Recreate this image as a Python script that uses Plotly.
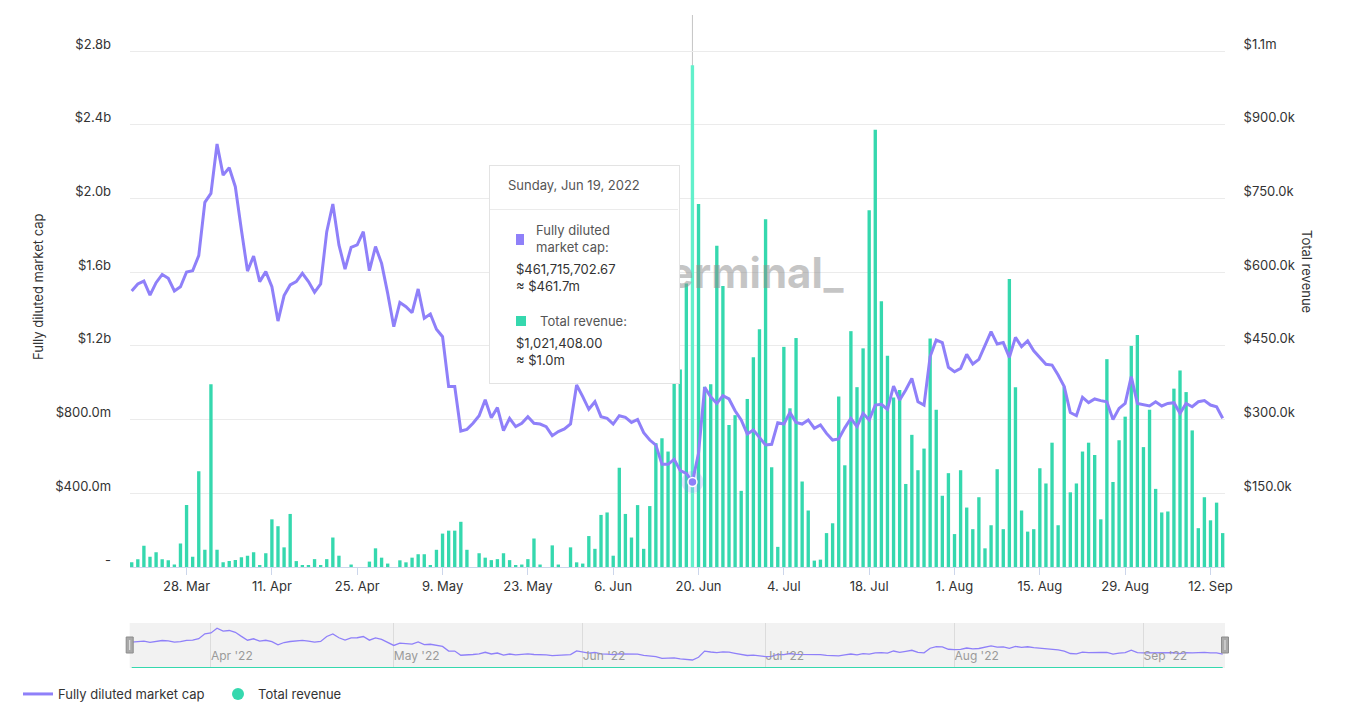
import pandas as pd
import plotly.graph_objects as go

# ---------------- data ----------------
start_date = "2022-03-19"          # first daily point
hover_date = "2022-06-19"          # date shown in the tooltip

# Fully diluted market cap, USD millions (daily)
fdmc_musd = [
    1498, 1536, 1552, 1476, 1543, 1588, 1567, 1498, 1521, 1601,
    1608, 1690, 1979, 2028, 2296, 2127, 2167, 2064, 1829, 1606,
    1688, 1549, 1603, 1521, 1335, 1473, 1531, 1549, 1594, 1549,
    1491,
    1536, 1820, 1970, 1748, 1617, 1735, 1748, 1820, 1608, 1739,
    1648, 1485, 1304, 1436, 1413, 1380, 1509, 1350, 1373, 1290,
    1250, 979, 979, 738, 747, 780, 821, 908, 810,
    865, 740, 807, 762, 780, 816, 780, 776, 762, 713,
    735, 749, 776, 988, 925, 856, 897, 816, 807, 776,
    821, 812, 785, 801, 729, 689, 662, 557, 557, 584,
    523, 508, 461.71570267, 617, 975, 924, 888, 930, 912, 848,
    798, 722, 744, 704, 662, 666, 783, 776, 838, 785,
    776, 798, 753, 771, 725, 689, 695, 755, 807,
    762, 834, 798, 879, 883, 856, 982, 906, 961, 1024,
    897, 879, 1142, 1232, 1218, 1084, 1060, 1078, 1154, 1102,
    1127, 1205, 1277, 1210, 1218, 1138, 1246, 1196, 1227, 1173,
    1138, 1100, 1096, 1042, 979, 838, 821, 921, 892, 912,
    903, 897, 801, 861, 888, 1033, 888, 879, 874, 897,
    874, 888, 892, 834, 888, 870, 897, 903, 879, 870,
    807,
]

# Total revenue, USD thousands (daily)
revenue_kusd = [
    9.5, 16, 43, 21, 30, 16, 13.6, 5, 48, 126,
    21, 195, 35, 372, 35, 9.5, 12, 14, 20, 23,
    30, 4, 28, 97, 83, 40, 108, 12, 4, 4,
    16,
    4, 16, 60, 23, 0, 5, 0, 0, 11, 38,
    19, 7, 0, 13.6, 9.5, 19, 26, 26, 4, 35,
    68, 74, 74, 92, 35, 0, 28,
    19, 14, 16, 28, 14, 4, 5, 16, 58, 5,
    0, 44, 5, 0, 40, 9.5, 7, 63, 37, 106,
    111, 23, 202, 108, 60, 126, 37, 124, 252, 262,
    235,
    388, 402, 577, 1021.408, 739, 367, 372, 654, 572, 289,
    309, 155, 342, 427, 484, 708, 203, 41, 448, 323,
    466, 174, 115, 13, 15, 69, 89, 347, 207, 480,
    366, 445, 726, 890, 541, 430, 345, 360, 169, 269,
    197, 241, 465, 320, 145, 191, 67, 197, 121, 77,
    142, 38, 85, 199, 77, 586, 366, 115, 72, 77,
    201, 170, 253, 85, 367, 152, 170, 235, 253, 228,
    97, 423, 173, 258, 306, 450, 472, 244, 320, 159,
    111, 113, 363, 400, 356, 278, 79, 142, 95, 131,
    69,
]

fdmc_tick_vals = [0, 400e6, 800e6, 1.2e9, 1.6e9, 2.0e9, 2.4e9, 2.8e9]
fdmc_tick_text = ["-", "$400.0m", "$800.0m", "$1.2b", "$1.6b", "$2.0b", "$2.4b", "$2.8b"]
rev_tick_vals = [0, 150e3, 300e3, 450e3, 600e3, 750e3, 900e3, 1.05e6]
rev_tick_text = ["", "$150.0k", "$300.0k", "$450.0k", "$600.0k", "$750.0k", "$900.0k", "$1.1m"]

# ---------------- derived ----------------
dates = pd.date_range(start_date, periods=len(fdmc_musd), freq="D")
fdmc = [v * 1e6 for v in fdmc_musd]
revenue = [v * 1e3 for v in revenue_kusd]
idx = dates.get_loc(pd.Timestamp(hover_date))

PURPLE = "#8f80f9"
GREEN = "#35d8ae"
GREEN_HOVER = "#62f0cb"
FONT = "Inter, Roboto, sans-serif"
TXT = "#333333"

W, H = 1358, 713
def px(x):
    return x / W
def py(y):
    return 1 - y / H

PLOT_L, PLOT_R, PLOT_T, PLOT_B = 129.7, 1225, 15, 567
NAV_T, NAV_B = 623, 668
n_ticks_span = (PLOT_B - PLOT_T) / 73.7   # axis height in tick intervals

day = pd.Timedelta(days=1)
x_range = [dates[0] - 0.33 * day, dates[-1] + 0.38 * day]

bar_colors = [GREEN] * len(revenue)
bar_colors[idx] = GREEN_HOVER

fig = go.Figure()

fig.add_trace(go.Bar(
    x=dates, y=revenue, xaxis="x", yaxis="y", name="Total revenue",
    marker=dict(color=bar_colors, line=dict(width=0)), showlegend=False,
    hoverinfo="skip",
))
fig.add_trace(go.Scatter(
    x=dates, y=fdmc, xaxis="x", yaxis="y2", mode="lines",
    name="Fully diluted market cap", line=dict(color=PURPLE, width=3),
))
fig.add_trace(go.Scatter(
    x=[dates[idx]], y=[fdmc[idx]], xaxis="x", yaxis="y2", mode="markers",
    marker=dict(size=22, color="rgba(143,128,249,0.22)"), showlegend=False,
))
fig.add_trace(go.Scatter(
    x=[dates[idx]], y=[fdmc[idx]], xaxis="x", yaxis="y2", mode="markers",
    marker=dict(size=9, color=PURPLE, line=dict(color="white", width=1.5)),
    showlegend=False,
))
fig.add_trace(go.Scatter(
    x=[None], y=[None], mode="markers", name="Total revenue",
    marker=dict(symbol="circle", size=12, color=GREEN),
))
# navigator
fig.add_trace(go.Scatter(
    x=dates, y=fdmc, xaxis="x2", yaxis="y3", mode="lines",
    line=dict(color=PURPLE, width=1.3), showlegend=False, hoverinfo="skip",
))
fig.add_trace(go.Scatter(
    x=dates, y=revenue, xaxis="x2", yaxis="y3", mode="lines",
    line=dict(color=GREEN, width=2), showlegend=False, hoverinfo="skip",
))

tickfont = dict(family=FONT, size=13, color=TXT)

shapes = [
    dict(type="rect", xref="x2 domain", yref="y3 domain", x0=0, x1=1, y0=0, y1=1,
         fillcolor="#f2f2f2", line=dict(width=0), layer="below"),
    dict(type="line", xref="x", yref="y domain", x0=dates[idx], x1=dates[idx],
         y0=0, y1=1, line=dict(color="#c4c4c4", width=1), layer="below"),
]
for hx in (PLOT_L, PLOT_R):
    shapes.append(dict(type="rect", xref="paper", yref="paper",
                       x0=px(hx - 3.5), x1=px(hx + 3.5), y0=py(653), y1=py(637),
                       fillcolor="#a9a9a9", line=dict(color="#8c8c8c", width=1)))
    shapes.append(dict(type="line", xref="paper", yref="paper",
                       x0=px(hx), x1=px(hx), y0=py(650), y1=py(640),
                       line=dict(color="#e8e8e8", width=1)))

annotations = [
    dict(text="Fully diluted market cap", xref="paper", yref="paper",
         x=px(38), y=py(287), textangle=-90, showarrow=False,
         font=dict(family=FONT, size=13, color=TXT), xanchor="center", yanchor="middle"),
    dict(text="Total revenue", xref="paper", yref="paper",
         x=px(1307), y=py(271), textangle=90, showarrow=False,
         font=dict(family=FONT, size=13, color=TXT), xanchor="center", yanchor="middle"),
    # watermark (left part hidden behind the tooltip)
    dict(text="<b>Terminal_</b>", xref="paper", yref="paper",
         x=px(846), y=py(272), xanchor="right", yanchor="middle", showarrow=False,
         font=dict(family=FONT, size=42, color="rgba(140,140,140,0.5)")),
]

# tooltip
TT_L, TT_R, TT_T, TT_B = 489, 678, 165, 382
def box(x0, y0, w, h, color, border=None):
    return dict(text=" ", xref="paper", yref="paper", x=px(x0), y=py(y0),
                xanchor="left", yanchor="top", showarrow=False,
                width=w, height=h, bgcolor=color, borderpad=0,
                bordercolor=border if border else color, borderwidth=1 if border else 0,
                font=dict(size=1))
def ttext(s, x0, yc, size=13, color=TXT):
    return dict(text=s, xref="paper", yref="paper", x=px(x0), y=py(yc),
                xanchor="left", yanchor="middle", align="left", showarrow=False,
                font=dict(family=FONT, size=size, color=color))

annotations += [
    box(TT_L + 2, TT_T + 2, TT_R - TT_L, TT_B - TT_T, "rgba(0,0,0,0.10)"),
    box(TT_L, TT_T, TT_R - TT_L, TT_B - TT_T, "white", border="#e3e3e3"),
    box(TT_L + 1, 209, TT_R - TT_L - 1, 1, "#ebebeb"),
    ttext(dates[idx].strftime("%A, %b %-d, %Y"), 506, 185, color="#555555"),
    box(515.5, 234, 8, 11, PURPLE),
    ttext("Fully diluted<br>market cap:", 534, 239, color="#555555"),
    ttext(f"${fdmc[idx]:,.2f}", 514, 269),
    ttext(f"≈ ${fdmc[idx] / 1e6:.1f}m", 514, 286),
    box(515.5, 316, 10, 10, GREEN),
    ttext("Total revenue:", 538, 321, color="#555555"),
    ttext(f"${revenue[idx]:,.2f}", 514, 343),
    ttext(f"≈ ${revenue[idx] / 1e6:.1f}m", 514, 360),
]

fig.update_layout(
    width=W, height=H,
    margin=dict(l=0, r=0, t=0, b=0, autoexpand=False),
    paper_bgcolor="white", plot_bgcolor="white",
    font=dict(family=FONT, size=13, color=TXT),
    bargap=0.45,
    xaxis=dict(domain=[px(PLOT_L), px(PLOT_R)], anchor="y", range=x_range,
               type="date", tickformat="%-d. %b", tick0="2022-03-28",
               dtick=14 * 86400000, ticks="outside", ticklen=7, tickcolor="#ccd6eb",
               showline=True, linecolor="#ccd6eb", showgrid=False, zeroline=False,
               tickfont=tickfont),
    yaxis=dict(domain=[py(PLOT_B), py(PLOT_T)], anchor="x", side="right",
               range=[0, n_ticks_span * 150e3], tickmode="array",
               tickvals=rev_tick_vals, ticktext=rev_tick_text,
               showgrid=True, gridcolor="#ebebeb", zeroline=False,
               ticks="outside", ticklen=15, tickcolor="rgba(0,0,0,0)", tickfont=tickfont,
               ticklabelshift=-7),
    yaxis2=dict(overlaying="y", anchor="x", side="left",
                range=[0, n_ticks_span * 400e6], tickmode="array",
                tickvals=fdmc_tick_vals, ticktext=fdmc_tick_text,
                showgrid=False, zeroline=False,
                ticks="outside", ticklen=15, tickcolor="rgba(0,0,0,0)", tickfont=tickfont,
                ticklabelshift=-7),
    xaxis2=dict(domain=[px(PLOT_L), px(PLOT_R)], anchor="y3", range=x_range,
                type="date", tickformat="%b '%y", dtick="M1", tick0="2022-01-01",
                ticklabelposition="inside right", ticks="", showline=False,
                showgrid=True, gridcolor="#dcdcdc", zeroline=False,
                tickfont=dict(family=FONT, size=12, color="#9a9a9a")),
    yaxis3=dict(domain=[py(NAV_B), py(NAV_T)], anchor="x2", range=[0, 2.6e9],
                visible=False, fixedrange=True),
    legend=dict(orientation="h", x=px(18), y=py(694), xanchor="left", yanchor="middle",
                font=dict(family=FONT, size=13, color=TXT), bgcolor="rgba(0,0,0,0)",
                itemwidth=30, entrywidth=155, entrywidthmode="pixels"),
    shapes=shapes,
    annotations=annotations,
    hovermode=False,
)

fig.write_html("out.html")
